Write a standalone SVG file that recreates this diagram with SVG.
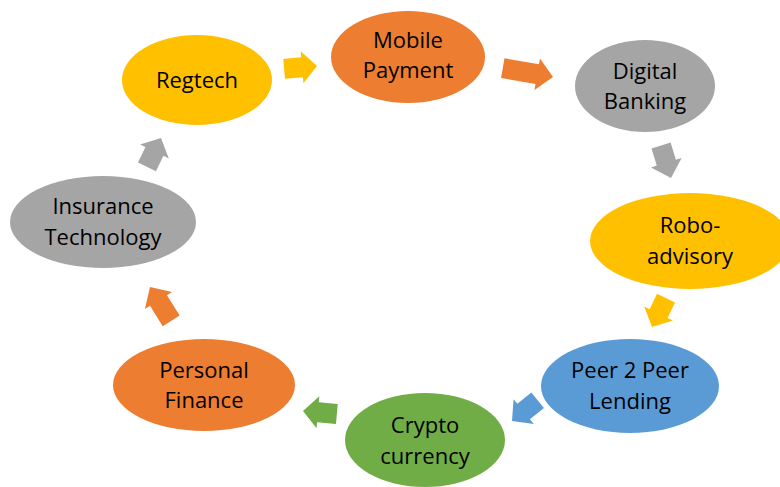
<svg xmlns="http://www.w3.org/2000/svg" width="780" height="487" viewBox="0 0 780 487">
<style>
text{font-family:"Open Sans","Liberation Sans",sans-serif;font-size:22px;fill:#000;text-anchor:middle}
.orange{fill:#ED7D31}.gray{fill:#A5A5A5}.yellow{fill:#FFC000}.blue{fill:#5B9BD5}.green{fill:#70AD47}
</style>
<rect width="780" height="487" fill="#fff"/>
<g id="connectors">
<polygon class="yellow" transform="translate(317,66) rotate(-5)" points="-33,-10 -15,-10 -15,-16 0,0 -15,16 -15,10 -33,10"/>
<polygon class="orange" transform="translate(553,77) rotate(10)" points="-51,-10 -16,-10 -16,-16 0,0 -16,16 -16,10 -51,10"/>
<polygon class="gray" transform="translate(671,178) rotate(73)" points="-34,-10 -16,-10 -16,-16 0,0 -16,16 -16,10 -34,10"/>
<polygon class="yellow" transform="translate(652,327) rotate(116)" points="-32,-10 -15,-10 -15,-16 0,0 -15,16 -15,10 -32,10"/>
<polygon class="blue" transform="translate(512,421) rotate(141)" points="-33,-10 -15,-10 -15,-16 0,0 -15,16 -15,10 -33,10"/>
<polygon class="green" transform="translate(303,411) rotate(185)" points="-34,-10 -15,-10 -15,-16 0,0 -15,16 -15,10 -34,10"/>
<polygon class="orange" transform="translate(150,287) rotate(238)" points="-40,-10 -16,-10 -16,-16 0,0 -16,16 -16,10 -40,10"/>
<polygon class="gray" transform="translate(161,138) rotate(-64)" points="-32,-10 -15,-10 -15,-16 0,0 -15,16 -15,10 -32,10"/>
</g>
<g id="regtech"><ellipse class="yellow" cx="197" cy="80" rx="75" ry="45"/><text x="197" y="88">Regtech</text></g>
<g id="mobile-payment"><ellipse class="orange" cx="408" cy="57" rx="77" ry="46"/><text x="408" y="48">Mobile</text><text x="408" y="78">Payment</text></g>
<g id="digital-banking"><ellipse class="gray" cx="645" cy="86" rx="70" ry="46"/><text x="645" y="79">Digital</text><text x="645" y="109">Banking</text></g>
<g id="robo-advisory"><ellipse class="yellow" cx="690" cy="241" rx="100" ry="48"/><text x="690" y="233">Robo-</text><text x="690" y="264">advisory</text></g>
<g id="p2p-lending"><ellipse class="blue" cx="630" cy="386" rx="89" ry="47"/><text x="630" y="378">Peer 2 Peer</text><text x="630" y="409">Lending</text></g>
<g id="cryptocurrency"><ellipse class="green" cx="425" cy="440" rx="80" ry="47"/><text x="425" y="433">Crypto</text><text x="425" y="464">currency</text></g>
<g id="personal-finance"><ellipse class="orange" cx="204" cy="385" rx="91" ry="46"/><text x="204" y="378">Personal</text><text x="204" y="408">Finance</text></g>
<g id="insurance-technology"><ellipse class="gray" cx="103" cy="222" rx="93" ry="46"/><text x="103" y="214">Insurance</text><text x="103" y="245">Technology</text></g>
</svg>
